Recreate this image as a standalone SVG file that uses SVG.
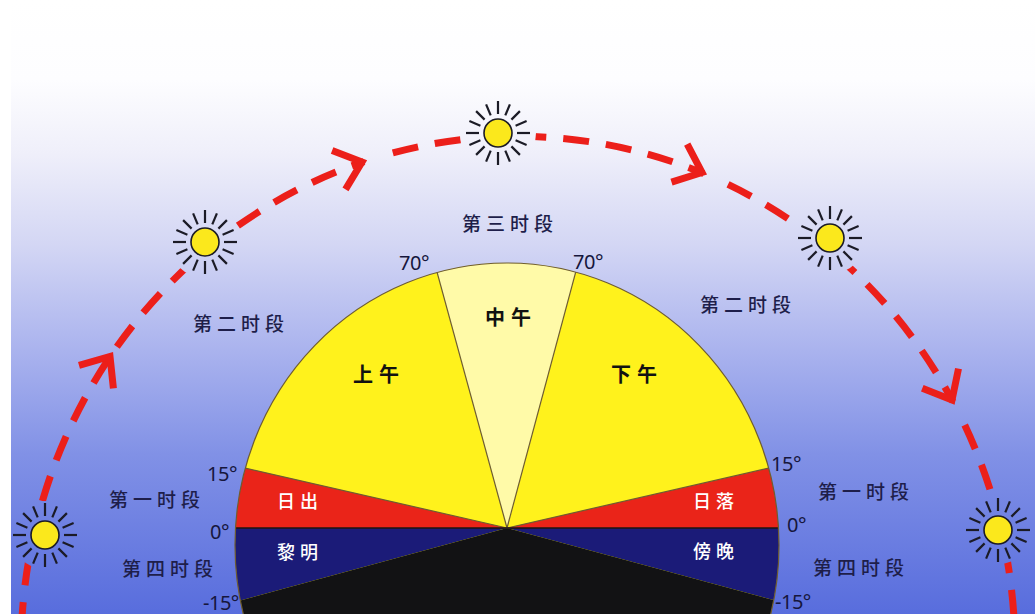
<svg xmlns="http://www.w3.org/2000/svg" xmlns:xlink="http://www.w3.org/1999/xlink" width="1035" height="614" viewBox="0 0 1035 614">
  <defs>
    <linearGradient id="sky" x1="0" y1="0" x2="0" y2="614" gradientUnits="userSpaceOnUse">
      <stop offset="0" stop-color="#ffffff"/>
      <stop offset="0.13" stop-color="#fdfdff"/>
      <stop offset="0.25" stop-color="#efeffa"/>
      <stop offset="0.4" stop-color="#d3d6f4"/>
      <stop offset="0.57" stop-color="#aab3ee"/>
      <stop offset="0.74" stop-color="#8191e6"/>
      <stop offset="1" stop-color="#586ddd"/>
    </linearGradient>
    <clipPath id="dial-clip">
      <ellipse cx="507" cy="545" rx="272" ry="282"/>
    </clipPath>
    <!-- gaps in the dashed track: behind each sun and just ahead of the arrow tips -->
    <mask id="path-gaps" maskUnits="userSpaceOnUse" x="0" y="0" width="1035" height="614">
      <rect x="0" y="0" width="1035" height="614" fill="#fff"/>
      <circle cx="498" cy="133" r="38" fill="#000"/>
      <circle cx="205" cy="242" r="36" fill="#000"/>
      <circle cx="830" cy="238" r="36" fill="#000"/>
      <circle cx="45" cy="535" r="34" fill="#000"/>
      <circle cx="998" cy="530" r="34" fill="#000"/>
      <circle cx="374.3" cy="157.8" r="11.5" fill="#000"/>
      <circle cx="714" cy="177.5" r="11.5" fill="#000"/>
      <circle cx="958.2" cy="411.5" r="11.5" fill="#000"/>
    </mask>
    <g id="sun">
      <g stroke="#1b1b26" stroke-width="2.2" stroke-linecap="butt">
        <line x1="0" y1="-19" x2="0" y2="-32"/>
        <line x1="0" y1="19" x2="0" y2="32"/>
        <line x1="-19" y1="0" x2="-32" y2="0"/>
        <line x1="19" y1="0" x2="32" y2="0"/>
        <line x1="7.3" y1="-17.6" x2="11.9" y2="-28.6"/>
        <line x1="-7.3" y1="-17.6" x2="-11.9" y2="-28.6"/>
        <line x1="7.3" y1="17.6" x2="11.9" y2="28.6"/>
        <line x1="-7.3" y1="17.6" x2="-11.9" y2="28.6"/>
        <line x1="17.6" y1="-7.3" x2="28.6" y2="-11.9"/>
        <line x1="-17.6" y1="-7.3" x2="-28.6" y2="-11.9"/>
        <line x1="17.6" y1="7.3" x2="28.6" y2="11.9"/>
        <line x1="-17.6" y1="7.3" x2="-28.6" y2="11.9"/>
        <line x1="13.4" y1="-13.4" x2="21.9" y2="-21.9"/>
        <line x1="-13.4" y1="-13.4" x2="-21.9" y2="-21.9"/>
        <line x1="13.4" y1="13.4" x2="21.9" y2="21.9"/>
        <line x1="-13.4" y1="13.4" x2="-21.9" y2="21.9"/>
      </g>
      <circle r="14" fill="#fbe81c" stroke="#1b1b26" stroke-width="1.6"/>
    </g>
  </defs>
  <style>
    .period { font-family: "Noto Sans CJK SC", "Noto Sans", sans-serif; font-size: 19px; font-weight: 500; fill: #1e1e4a; letter-spacing: 5px; text-anchor: middle; }
    .phase { font-family: "Noto Sans CJK SC", "Noto Sans", sans-serif; font-size: 20px; font-weight: 700; fill: #111111; letter-spacing: 6px; text-anchor: middle; }
    .twilight { font-family: "Noto Sans CJK SC", "Noto Sans", sans-serif; font-size: 18px; font-weight: 500; fill: #ffffff; letter-spacing: 5px; text-anchor: middle; }
    .deg { font-family: "Noto Sans", "Liberation Sans", sans-serif; font-size: 20px; fill: #16163c; letter-spacing: -0.5px; }
    .divider { stroke: #6e5c32; stroke-width: 1.2; fill: none; }
    .track { fill: none; stroke: #ec1f1a; stroke-width: 7; }
    .arrow { fill: none; stroke: #ec1f1a; stroke-width: 7; stroke-linejoin: miter; stroke-linecap: butt; }
  </style>

  <!-- sky -->
  <rect x="0" y="0" width="1035" height="614" fill="#ffffff"/>
  <rect x="11" y="0" width="1024" height="614" fill="url(#sky)"/>

  <!-- solar elevation dial -->
  <g id="dial">
    <g clip-path="url(#dial-clip)">
      <rect x="200" y="250" width="620" height="380" fill="#fff21c"/>
      <polygon id="noon-sector" points="507,528 367,16 645,14" fill="#fffaa8"/>
      <polygon id="sunrise-sector" points="507,528 -17,408 -17,528" fill="#ea2419"/>
      <polygon id="sunset-sector" points="507,528 1031,408 1031,528" fill="#ea2419"/>
      <polygon id="dawn-sector" points="507,528 -23,528 -23,672" fill="#1b1b78"/>
      <polygon id="dusk-sector" points="507,528 1039,528 1039,672" fill="#1b1b78"/>
      <polygon id="night-sector" points="507,528 -23,672 -23,900 1039,900 1039,672" fill="#121214"/>
      <line class="divider" x1="507" y1="528" x2="367" y2="16"/>
      <line class="divider" x1="507" y1="528" x2="645" y2="14"/>
      <line class="divider" x1="507" y1="528" x2="-17" y2="408" stroke-width="0.8"/>
      <line class="divider" x1="507" y1="528" x2="1031" y2="408" stroke-width="0.8"/>
      <line x1="200" y1="528" x2="820" y2="528" stroke="#1e1410" stroke-width="1.4"/>
    </g>
    <ellipse class="divider" cx="507" cy="545" rx="272" ry="282"/>
  </g>

  <!-- daytime sun path -->
  <g id="connectors">
    <path class="track" mask="url(#path-gaps)" stroke-dasharray="26 17" stroke-dashoffset="31" d="M 21.1 640 A 497 514 0 0 1 1014.9 640"/>
    <polyline class="arrow" points="79,365.4 110,356.5 113.4,388.3"/>
    <polyline class="arrow" points="332.1,150.5 362,162 345.5,189.4"/>
    <polyline class="arrow" points="687.2,144.1 702,172.5 671.5,182.2"/>
    <polyline class="arrow" points="958.5,368.6 952,400 922.3,388.2"/>
  </g>

  <!-- sun positions -->
  <g id="sun-dawn"><use xlink:href="#sun" x="45" y="535"/></g>
  <g id="sun-morning"><use xlink:href="#sun" x="205" y="242"/></g>
  <g id="sun-noon"><use xlink:href="#sun" x="498" y="133"/></g>
  <g id="sun-afternoon"><use xlink:href="#sun" x="830" y="238"/></g>
  <g id="sun-dusk"><use xlink:href="#sun" x="998" y="530"/></g>

  <!-- sector names -->
  <g id="sector-labels">
    <text class="phase" x="379" y="382">上午</text>
    <text class="phase" x="511" y="325">中午</text>
    <text class="phase" x="637" y="382">下午</text>
    <text class="twilight" x="300" y="508">日出</text>
    <text class="twilight" x="716" y="508">日落</text>
    <text class="twilight" x="300" y="559">黎明</text>
    <text class="twilight" x="716" y="558">傍晚</text>
  </g>

  <!-- period names -->
  <g id="period-labels">
    <text class="period" x="510" y="231">第三时段</text>
    <text class="period" x="241" y="331">第二时段</text>
    <text class="period" x="748" y="312">第二时段</text>
    <text class="period" x="157" y="507">第一时段</text>
    <text class="period" x="866" y="499">第一时段</text>
    <text class="period" x="170" y="576">第四时段</text>
    <text class="period" x="861" y="575">第四时段</text>
  </g>

  <!-- elevation angles -->
  <g id="angle-labels">
    <text class="deg" x="399" y="270">70°</text>
    <text class="deg" x="573" y="269">70°</text>
    <text class="deg" x="207" y="481">15°</text>
    <text class="deg" x="771" y="471">15°</text>
    <text class="deg" x="210" y="539">0°</text>
    <text class="deg" x="787" y="532">0°</text>
    <text class="deg" x="203" y="610">-15°</text>
    <text class="deg" x="775" y="609">-15°</text>
  </g>
</svg>
